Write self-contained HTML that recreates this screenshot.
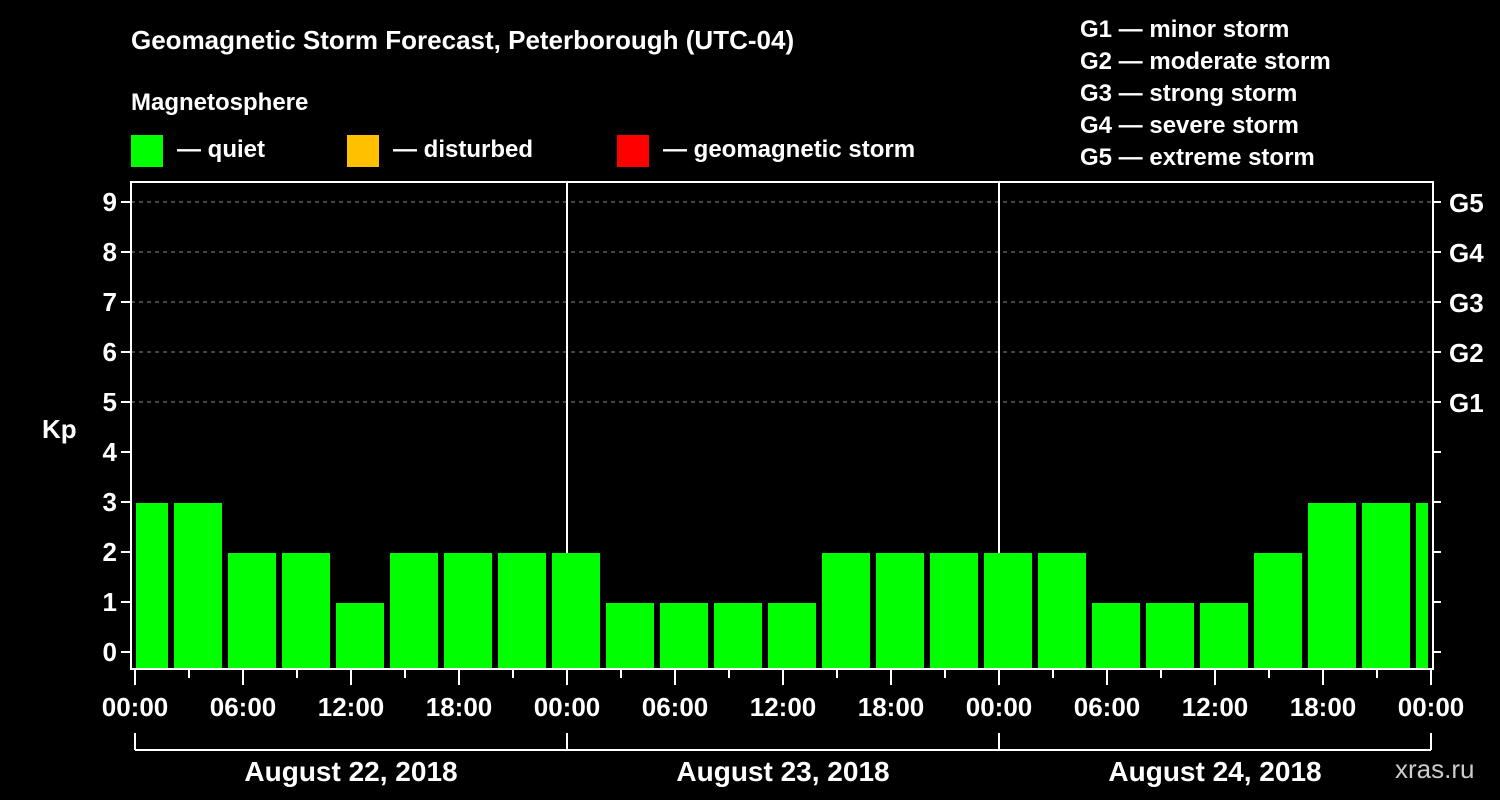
<!DOCTYPE html>
<html><head><meta charset="utf-8"><style>
html,body{margin:0;padding:0;background:#000;}
svg{display:block;font-family:"Liberation Sans",Arial,sans-serif;font-weight:bold;}
</style></head><body>
<svg id="chart" width="1500" height="800" viewBox="0 0 1500 800">
<rect x="0" y="0" width="1500" height="800" fill="#000"/>
<text x="131" y="49" fill="#fff" font-size="26">Geomagnetic Storm Forecast, Peterborough (UTC-04)</text>
<text x="131" y="110" fill="#fff" font-size="24">Magnetosphere</text>
<g><rect x="131" y="135" width="32" height="32" fill="#00ff00"/><text x="177" y="157" fill="#fff" font-size="24">— quiet</text></g>
<g><rect x="347" y="135" width="32" height="32" fill="#ffc000"/><text x="393" y="157" fill="#fff" font-size="24">— disturbed</text></g>
<g><rect x="617" y="135" width="32" height="32" fill="#ff0000"/><text x="663" y="157" fill="#fff" font-size="24">— geomagnetic storm</text></g>
<g fill="#fff" font-size="24">
<text x="1080" y="37">G1 — minor storm</text>
<text x="1080" y="69">G2 — moderate storm</text>
<text x="1080" y="101">G3 — strong storm</text>
<text x="1080" y="133">G4 — severe storm</text>
<text x="1080" y="165">G5 — extreme storm</text>
</g>
<text x="42" y="438" fill="#fff" font-size="26">Kp</text>
<text x="1395" y="778" fill="#ccc" font-size="26" font-weight="normal">xras.ru</text>
<g id="grid"></g><g id="bars"></g><g id="axes"></g>
</svg>
<script>
const kpValues=[3,3,2,2,1,2,2,2,2,1,1,1,1,2,2,2,2,2,1,1,1,2,3,3,3];
const dayLabels=["August 22, 2018","August 23, 2018","August 24, 2018"];
const hourLabels=["00:00","06:00","12:00","18:00"];
const gLabels=["G1","G2","G3","G4","G5"];
const NS="http://www.w3.org/2000/svg";
const L=131,R=1433,T=182,B=669,X0=135,PXH=18;
function x(h){return X0+h*PXH;}
function y(k){return 652-k*50;}
function mk(tag,attrs,parent,txt){const e=document.createElementNS(NS,tag);for(const k in attrs)e.setAttribute(k,attrs[k]);if(txt!==undefined)e.textContent=txt;parent.appendChild(e);return e;}
const grid=document.getElementById('grid'),bars=document.getElementById('bars'),axes=document.getElementById('axes');
for(let k=5;k<=9;k++){const l=mk('line',{x1:L,x2:R,y1:y(k),y2:y(k),stroke:'#888','stroke-dasharray':'4,4','stroke-width':1},grid);

}
for(let d=1;d<dayLabels.length;d++){const l=mk('line',{x1:x(24*d),x2:x(24*d),y1:T,y2:B,stroke:'#fff','stroke-width':2},grid);

}
const clip=mk('clipPath',{id:'pc'},document.getElementById('chart'));
mk('rect',{x:X0+1,y:T,width:x(72)-X0-4,height:B-T},clip);
bars.setAttribute('clip-path','url(#pc)');
kpValues.forEach((v,i)=>{const c=x(i*3+0.5);const r=mk('rect',{x:c-24,y:y(v)+1,width:48,height:B-1-(y(v)+1),fill:'#00ff00'},bars);

});
mk('path',{d:`M${L} ${B} L${L} ${T} L${R} ${T} L${R} ${B} Z`,fill:'none',stroke:'#fff','stroke-width':2},axes);
for(let k=0;k<=9;k++){mk('line',{x1:L-10,x2:L,y1:y(k),y2:y(k),stroke:'#fff','stroke-width':2},axes);
mk('line',{x1:R,x2:R+8,y1:y(k),y2:y(k),stroke:'#fff','stroke-width':2},axes);
const t=mk('text',{x:L-14,y:y(k)+9,fill:'#fff','font-size':26,'text-anchor':'end'},axes,String(k));

}
gLabels.forEach((g,i)=>{const t=mk('text',{x:R+16,y:y(5+i)+10,fill:'#fff','font-size':26},axes,g);

});
for(let h=0;h<=72;h+=3){const maj=h%6===0;mk('line',{x1:x(h),x2:x(h),y1:B,y2:B+(maj?16:9),stroke:'#fff','stroke-width':2},axes);
if(maj){const t=mk('text',{x:x(h),y:716,fill:'#fff','font-size':26,'text-anchor':'middle'},axes,hourLabels[(h/6)%4]);

}}
mk('line',{x1:x(0),x2:x(72),y1:750,y2:750,stroke:'#fff','stroke-width':2},axes);
for(let d=0;d<=dayLabels.length;d++)mk('line',{x1:x(24*d),x2:x(24*d),y1:733,y2:750,stroke:'#fff','stroke-width':2},axes);
dayLabels.forEach((s,d)=>{const t=mk('text',{x:x(24*d+12),y:781,fill:'#fff','font-size':28,'text-anchor':'middle'},axes,s);

});
</script>
</body></html>
